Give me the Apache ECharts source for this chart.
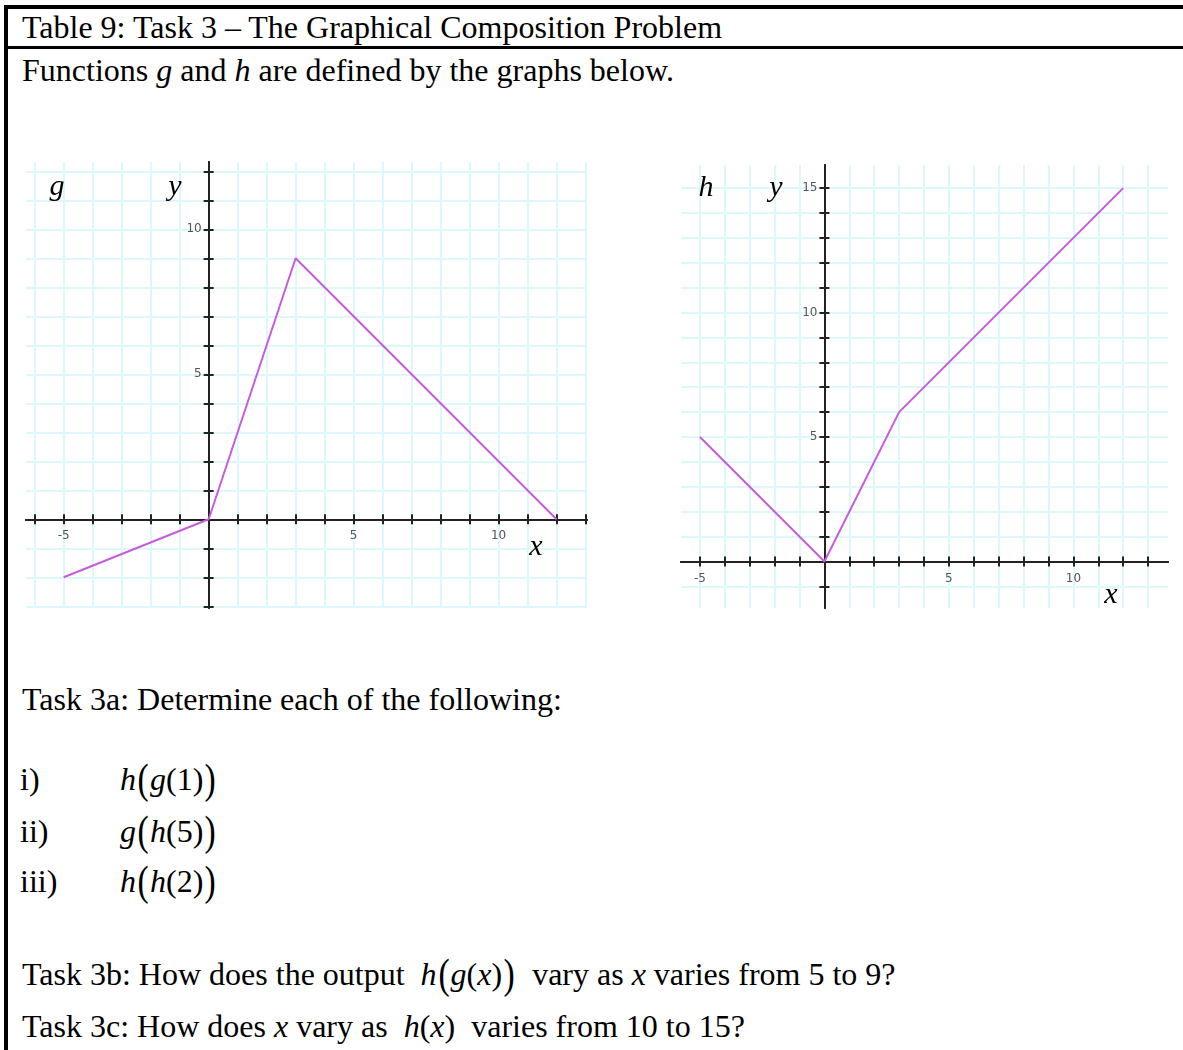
<!DOCTYPE html>
<html>
<head>
<meta charset="utf-8">
<script src="https://cdn.jsdelivr.net/npm/echarts@6/dist/echarts.min.js"></script>
<style>
	html,body{margin:0;padding:0;background:#fff;}
	body{width:1183px;height:1050px;position:relative;overflow:hidden;font-family:"Liberation Serif","Times New Roman",serif;color:#000;}
	.rule{position:absolute;background:#000;}
	.txt{position:absolute;font-size:32px;line-height:32px;white-space:nowrap;}
	.txt i{font-style:italic;}
	.bp{font-size:42px;display:inline-block;transform:scaleX(0.8);vertical-align:-3px;line-height:32px;}
	#chart{position:absolute;left:0;top:150px;width:1183px;height:480px;}
</style>
</head>
<body>
<div id="chart"></div>

<div class="rule" style="left:4px;top:5px;width:1179px;height:4px;"></div>
<div class="rule" style="left:4px;top:46px;width:1179px;height:3px;"></div>
<div class="rule" style="left:4px;top:5px;width:4px;height:1045px;"></div>

<div class="txt" style="left:22px;top:11px;">Table 9: Task 3 – The Graphical Composition Problem</div>
<div class="txt" style="left:22px;top:54px;">Functions <i>g</i> and <i>h</i> are defined by the graphs below.</div>
<div class="txt" style="left:22px;top:683px;">Task 3a: Determine each of the following:</div>

<div class="txt" style="left:20px;top:763px;">i)</div>
<div class="txt" style="left:120px;top:763px;"><i>h</i><span class="bp">(</span><i>g</i>(1)<span class="bp">)</span></div>
<div class="txt" style="left:20px;top:815px;">ii)</div>
<div class="txt" style="left:120px;top:815px;"><i>g</i><span class="bp">(</span><i>h</i>(5)<span class="bp">)</span></div>
<div class="txt" style="left:20px;top:865px;">iii)</div>
<div class="txt" style="left:120px;top:865px;"><i>h</i><span class="bp">(</span><i>h</i>(2)<span class="bp">)</span></div>

<div class="txt" style="left:22px;top:958px;">Task 3b: How does the output&nbsp; <i>h</i><span class="bp">(</span><i>g</i>(<i>x</i>)<span class="bp">)</span>&nbsp; vary as <i>x</i> varies from 5 to 9?</div>
<div class="txt" style="left:22px;top:1010px;">Task 3c: How does <i>x</i> vary as&nbsp; <i>h</i>(<i>x</i>)&nbsp; varies from 10 to 15?</div>

<script>
// g graph: corner points
var gX = [-5, 0, 3, 12];
var gY = [-2, 0, 9, 0];
// h graph: corner points
var hX = [-5, 0, 3, 12];
var hY = [5, 0, 6, 15];

// ticks and tick labels
var gTicksX = [-6, -5, -4, -3, -2, -1, 0, 1, 2, 3, 4, 5, 6, 7, 8, 9, 10, 11, 12, 13];
var gTicksY = [-3, -2, -1, 0, 1, 2, 3, 4, 5, 6, 7, 8, 9, 10, 11, 12];
var gLabelsX = [-5, 5, 10];
var gLabelsY = [5, 10];
var hTicksX = [-5, -4, -3, -2, -1, 0, 1, 2, 3, 4, 5, 6, 7, 8, 9, 10, 11, 12, 13];
var hTicksY = [-1, 0, 1, 2, 3, 4, 5, 6, 7, 8, 9, 10, 11, 12, 13, 14, 15];
var hLabelsX = [-5, 5, 10];
var hLabelsY = [5, 10, 15];

// visible window of each graph
var gRangeX = [-6.3, 13.05];
var gRangeY = [-3.06, 12.32];
var hRangeX = [-5.76, 13.8];
var hRangeY = [-1.87, 15.93];

var axisColor = '#222';
var gridColor = '#dcf8fb';
var lineColor = '#c75cdb';

var gBox = {left:26, top:12, width:561, height:446};
var hBox = {left:681, top:15, width:487, height:443};

function pairs(xs, ys){
	var out = [];
	for(var i = 0; i < xs.length; i++){
		out.push([xs[i], ys[i]]);
	}
	return out;
}

function copy(o){
	var c = {};
	for(var k in o){
		if(o.hasOwnProperty(k)) c[k] = o[k];
	}
	return c;
}

// shift an axis from the grid edge to the zero line of the other axis
function zeroOffset(range, size){
	return -size * (0 - range[0]) / (range[1] - range[0]);
}

// inner=true draws the second half of the crossing tick marks
function makeAxis(grid, range, ticks, labels, offset, inner, margin){
	return {
		type:'value',
		gridIndex:grid,
		min:range[0],
		max:range[1],
		offset:offset,
		axisLine:{show:true, onZero:false, lineStyle:{color:axisColor, width:2}},
		axisTick:{show:true, inside:inner, length:5, customValues:ticks, lineStyle:{color:axisColor, width:2}},
		axisLabel:{
			show:!inner,
			customValues:labels,
			color:'#555',
			fontSize:12,
			fontFamily:'DejaVu Sans',
			margin:margin
		},
		splitLine:{show:!inner, lineStyle:{color:gridColor, width:2}}
	};
}

function letter(t, x, y){
	return {
		type:'text',
		x:x,
		y:y,
		z:100,
		style:{
			text:t,
			fontStyle:'italic',
			fontSize:30,
			fontFamily:'Liberation Serif',
			fill:'#000',
			align:'center',
			verticalAlign:'middle'
		}
	};
}

var chart = echarts.init(document.getElementById('chart'));

var gxOff = zeroOffset(gRangeY, gBox.height);
var gyOff = zeroOffset(gRangeX, gBox.width);
var hxOff = zeroOffset(hRangeY, hBox.height);
var hyOff = zeroOffset(hRangeX, hBox.width);

var option = {
	animation:false,
	grid:[copy(gBox), copy(gBox), copy(hBox), copy(hBox)],
	xAxis:[
		makeAxis(0, gRangeX, gTicksX, gLabelsX, gxOff, false, 11),
		makeAxis(1, gRangeX, gTicksX, gLabelsX, gxOff, true, 11),
		makeAxis(2, hRangeX, hTicksX, hLabelsX, hxOff, false, 11),
		makeAxis(3, hRangeX, hTicksX, hLabelsX, hxOff, true, 11)
	],
	yAxis:[
		makeAxis(0, gRangeY, gTicksY, gLabelsY, gyOff, false, 7),
		makeAxis(1, gRangeY, gTicksY, gLabelsY, gyOff, true, 7),
		makeAxis(2, hRangeY, hTicksY, hLabelsY, hyOff, false, 7),
		makeAxis(3, hRangeY, hTicksY, hLabelsY, hyOff, true, 7)
	],
	series:[
		{
			name:'g',
			type:'line',
			xAxisIndex:0,
			yAxisIndex:0,
			data:pairs(gX, gY),
			showSymbol:false,
			lineStyle:{color:lineColor, width:2},
			z:5
		},
		{
			name:'h',
			type:'line',
			xAxisIndex:2,
			yAxisIndex:2,
			data:pairs(hX, hY),
			showSymbol:false,
			lineStyle:{color:lineColor, width:2},
			z:5
		}
	],
	graphic:[
		letter('g', 57, 37),
		letter('y', 175, 37),
		letter('x', 536, 397),
		letter('h', 706, 38),
		letter('y', 776, 38),
		letter('x', 1111, 445)
	]
};

chart.setOption(option);
</script>
</body>
</html>
